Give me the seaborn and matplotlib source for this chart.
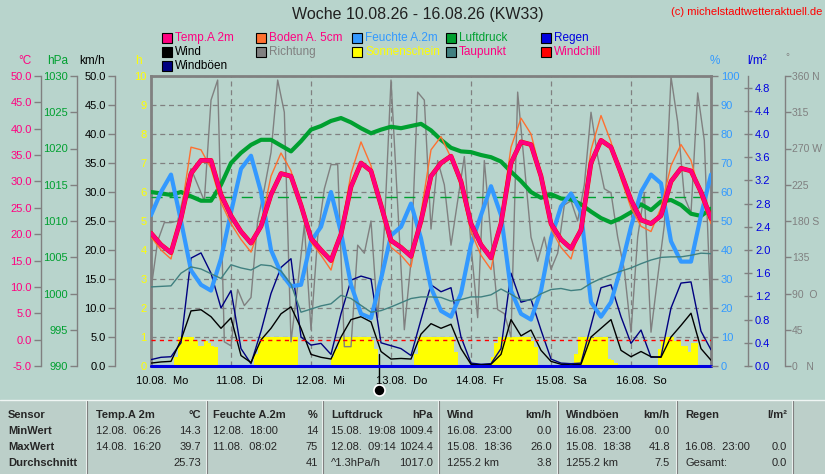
import numpy as np
import matplotlib
matplotlib.use("Agg")
import matplotlib.pyplot as plt
import matplotlib.transforms as mtransforms
from matplotlib.patches import Rectangle
from matplotlib.lines import Line2D
import seaborn as sns

# Messwerte Woche 10.08. - 16.08. (Stunden ab 10.08. 00:00)
hours3 = list(range(0, 169, 3))
temp = [20.2, 18.0, 16.5, 23.0, 31.5, 34.0, 34.0, 27.5, 23.5, 20.5, 18.3, 21.5, 27.5, 31.5, 31.0, 25.5,
        19.2, 17.0, 15.0, 20.0, 29.0, 33.5, 32.0, 25.5, 18.8, 17.5, 15.8, 22.5, 31.0, 33.5, 34.8, 30.0,
        22.0, 18.0, 15.5, 22.0, 33.5, 37.5, 37.0, 31.0, 22.0, 19.0, 17.3, 20.8, 33.5, 37.8, 36.5, 31.6,
        26.5, 22.7, 22.0, 23.5, 30.0, 32.5, 32.0, 28.0, 23.0]
boden = [19.5, 17.0, 15.3, 24.0, 36.5, 36.0, 32.5, 26.0, 22.0, 19.0, 16.6, 22.0, 31.0, 35.4, 32.0, 25.0,
         18.5, 16.0, 13.2, 20.5, 31.5, 37.5, 33.0, 24.5, 17.5, 16.0, 13.8, 24.0, 36.0, 38.5, 34.5, 29.0,
         20.5, 16.0, 13.3, 23.0, 36.5, 42.0, 39.0, 31.5, 21.0, 17.5, 15.3, 22.0, 36.0, 42.5, 37.5, 30.5,
         25.0, 21.5, 20.5, 25.0, 33.0, 37.0, 34.0, 27.0, 22.0]
feuchte = [52, 60, 66, 50, 33, 28, 26, 37, 53, 68, 72.5, 60, 40, 32, 27.5, 28,
           43, 48, 60, 46, 28, 18, 16.5, 30, 45, 48, 56, 44, 27, 19, 17, 25,
           42, 52, 62, 52, 26, 18, 16, 26, 44, 55, 59.5, 53, 22, 17, 22, 34,
           48, 60, 66, 63, 43, 36, 36, 52, 66]
luftdruck = [1014.0, 1013.8, 1013.6, 1014.0, 1013.4, 1012.8, 1012.8, 1015.0, 1018.0, 1019.4, 1020.5,
             1021.2, 1021.2, 1020.4, 1019.6, 1021.0, 1022.6, 1023.1, 1023.8, 1024.2, 1023.6, 1022.8,
             1022.1, 1022.6, 1023.0, 1022.8, 1023.1, 1023.4, 1022.5, 1021.2, 1020.1, 1019.6, 1019.5,
             1019.1, 1018.8, 1018.2, 1016.8, 1015.5, 1014.0, 1013.2, 1013.7, 1013.1, 1013.0, 1012.3,
             1011.3, 1010.4, 1009.8, 1010.4, 1011.2, 1012.3, 1011.5, 1012.7, 1012.9, 1012.2, 1011.0,
             1010.7, 1011.7]
taupunkt = [10.0, 10.1, 10.2, 12.6, 13.8, 13.4, 12.5, 11.6, 14.2, 13.6, 13.2, 14.2, 14.0, 13.0, 10.5, 5.2,
            5.8, 6.4, 6.8, 8.4, 7.8, 6.5, 5.2, 5.5, 6.2, 7.0, 7.8, 8.1, 8.1, 8.0, 7.3, 7.6,
            8.1, 8.1, 8.5, 9.6, 8.6, 7.5, 7.5, 8.7, 9.5, 9.7, 9.3, 9.5, 10.7, 11.6, 12.3, 13.0,
            13.6, 14.4, 15.1, 15.6, 15.7, 15.7, 16.0, 16.4, 16.3]
wind = [0.5, 0.7, 0.8, 4.5, 9.5, 9.7, 8.5, 6.5, 8.3, 1.8, 0.6, 4.5, 6.5, 9.0, 10.2, 6.5,
        2.0, 1.5, 1.2, 5.0, 8.0, 8.5, 7.6, 2.5, 1.2, 1.3, 1.2, 5.5, 7.3, 6.5, 7.2, 3.0,
        0.3, 0.2, 0.3, 2.0, 8.0, 5.2, 6.2, 2.7, 0.8, 0.3, 0.2, 0.3, 5.0, 6.5, 8.0, 2.7,
        1.6, 2.5, 1.6, 1.5, 5.0, 7.0, 9.1, 3.0, 1.0]
boeen = [1.1, 1.5, 1.6, 4.0, 18.6, 19.5, 16.0, 10.0, 13.0, 3.0, 0.4, 6.0, 12.5, 17.0, 18.5, 5.0,
         3.6, 3.9, 2.0, 9.0, 14.8, 15.5, 15.0, 4.0, 3.5, 3.0, 1.8, 8.0, 14.0, 12.8, 13.5, 5.0,
         0.5, 0.3, 0.4, 3.0, 16.0, 11.0, 11.5, 6.2, 1.2, 0.5, 0.4, 0.5, 7.0, 13.5, 14.0, 8.5,
         3.9, 6.2, 1.5, 1.6, 10.0, 14.3, 14.5, 6.0, 2.8]

hours2 = list(range(0, 169, 2))
richtung = [95, 155, 178, 178, 180, 215, 245, 225, 205, 330, 355, 30,
            25, 95, 75, 85, 180, 220, 265, 355, 315, 30, 100, 175,
            45, 160, 220, 250, 250, 24, 24, 150, 140, 180, 60, 170,
            355, 200, 45, 130, 340, 330, 170, 255, 225, 150, 205, 260,
            150, 60, 255, 160, 70, 65, 36, 340, 250, 160, 130, 160,
            120, 140, 200, 205, 180, 225, 315, 260, 220, 215, 160, 119,
            42, 160, 215, 42, 110, 175, 359, 303, 210, 190, 339, 280,
            60]

hours1 = list(range(0, 168))
sonne = [0, 0, 0, 0, 0, 0, 0, 0.3, 1, 1, 1, 1, 1, 0.85, 0.7, 0.7, 0.85, 0.8, 0.7, 0.65, 0, 0, 0, 0,
         0, 0, 0, 0, 0, 0, 0, 0.4, 0.8, 1, 1, 1, 1, 1, 1, 1, 1, 1, 1, 1, 0, 0, 0, 0,
         0, 0, 0, 0, 0, 0, 0.3, 0.6, 0.9, 1, 1, 1, 1, 1, 1, 1, 1, 1, 0.9, 0.6, 0, 0, 0, 0,
         0, 0, 0, 0, 0, 0, 0, 0.4, 1, 1, 1, 1, 1, 1, 1, 1, 1, 1, 1, 0.5, 0, 0, 0, 0,
         0, 0, 0, 0, 0, 0, 0.3, 0.8, 1, 1, 1, 1, 1, 1, 1, 1, 1, 1, 0.85, 0.65, 0, 0, 0, 0,
         0, 0, 0, 0, 0, 0, 0, 0.4, 1, 1, 1, 1, 0.95, 1, 1, 1, 1, 0.25, 0.2, 0.1, 0, 0, 0, 0,
         0, 0, 0, 0, 0, 0, 0, 0, 0.6, 0.9, 1, 1, 1, 0.85, 0.85, 0.7, 0.7, 0.5, 0.8, 0.8, 0, 0, 0, 0]

regen_tage = [0, 1, 2, 3, 4, 5, 6, 7]
regen = [0.0, 0.0, 0.0, 0.0, 0.0, 0.0, 0.0, 0.0]

mond_tag = 2.85
tag_labels = ["10.08.  Mo", "11.08.  Di", "12.08.  Mi", "13.08.  Do", "14.08.  Fr", "15.08.  Sa", "16.08.  So"]
richtung_labels = ["0   N", "45", "90  O", "135", "180 S", "225", "270 W", "315", "360 N"]

# Tabelle
tab_sensor = ["Temp.A 2m", "Feuchte A.2m", "Luftdruck", "Wind", "Windböen", "Regen"]
tab_einheit = ["°C", "%", "hPa", "km/h", "km/h", "l/m²"]
tab_zeilen = ["MinWert", "MaxWert", "Durchschnitt"]
min_wann = ["12.08.  06:26", "12.08.  18:00", "15.08.  19:08", "16.08.  23:00", "16.08.  23:00", ""]
min_wert = ["14.3", "14", "1009.4", "0.0", "0.0", ""]
max_wann = ["14.08.  16:20", "11.08.  08:02", "12.08.  09:14", "15.08.  18:36", "15.08.  18:38", "16.08.  23:00"]
max_wert = ["39.7", "75", "1024.4", "26.0", "41.8", "0.0"]
avg_text = ["", "", "^1.3hPa/h", "1255.2 km", "1255.2 km", "Gesamt:"]
avg_wert = ["25.73", "41", "1017.0", "3.8", "7.5", "0.0"]

BG = "#b8d4cc"
TBG = "#bccfc9"
PINK = "#ff0080"
ORANGE = "#ff7030"
LBLUE = "#3399ff"
GREEN = "#00a030"
BLUE = "#0000e0"
NAVY = "#000080"
GRAY = "#808080"
YELLOW = "#ffff00"
TEAL = "#408080"
RED = "#ff0000"

sns.set_style("white")
plt.rcParams['font.family'] = ['Liberation Sans', 'DejaVu Sans']

W, H = 825, 474
L, R, T, B = 151, 711, 76, 366


def fx(px):
    return px / W


def fy(py):
    return 1 - py / H


fig = plt.figure(figsize=(W / 100, H / 100), dpi=100, facecolor=BG)
fig.patches.append(Rectangle((0, 0), 1, fy(400), transform=fig.transFigure, color=TBG, zorder=0))

ax = fig.add_axes([fx(L), fy(B), (R - L) / W, (B - T) / H])
ax.set_facecolor(BG)
ax.set_xlim(0, 7)
ax.set_ylim(0, 10)
for s in ax.spines.values():
    s.set_color(GRAY)
    s.set_linewidth(2)
ax.set_yticks(range(0, 11))
ax.tick_params(axis='y', length=0, labelcolor=YELLOW, labelsize=8, pad=3)
ax.set_xticks(range(0, 8))
ax.set_xticklabels([])
ax.tick_params(axis='x', length=4, color=GRAY, width=1, direction='out')
ax.grid(True, color=GRAY, linestyle=(0, (4, 3)), linewidth=0.9)

days1 = np.array(hours1) / 24
ax.bar(days1 + 0.5 / 24, sonne, width=1 / 24, color=YELLOW, linewidth=0, zorder=2)

for d, lab in enumerate(tag_labels):
    ax.annotate(lab, xy=(d, 0), xycoords=('data', 'axes fraction'), xytext=(-15, -15),
                textcoords='offset pixels', ha='left', va='center', fontsize=8, color='black')

trans = mtransforms.blended_transform_factory(ax.transData, ax.transAxes)
ax.plot([mond_tag, mond_tag], [0.04, -0.07], color='black', lw=1, transform=trans, clip_on=False, zorder=5)
ax.plot([mond_tag], [-0.083], marker='o', ms=8, mfc='black', mec='white', mew=1.2,
        transform=trans, clip_on=False, zorder=6)


def twin(side, pos, tick_dir='out'):
    a = ax.twinx()
    for s in a.spines.values():
        s.set_visible(False)
    sp = a.spines[side]
    sp.set_visible(pos != 1.0)
    sp.set_position(('axes', pos))
    sp.set_color(GRAY)
    sp.set_linewidth(1)
    if side == 'left':
        a.yaxis.tick_left()
    else:
        a.yaxis.tick_right()
    a.tick_params(axis='y', color=GRAY, width=1, length=5, direction=tick_dir, labelsize=8, pad=1.5)
    return a


days3 = np.array(hours3) / 24
days2 = np.array(hours2) / 24

# Windrichtung
ax_dir = twin('right', 1.1321)
ax_dir.set_ylim(0, 360)
ax_dir.set_yticks(range(0, 361, 45))
ax_dir.set_yticklabels(richtung_labels)
ax_dir.tick_params(axis='y', labelcolor=GRAY, labelsize=7.5, length=4, pad=1)
sns.lineplot(x=days2, y=richtung, ax=ax_dir, color=GRAY, linewidth=1, legend=False)

# Wind / Böen
ax_wind = twin('left', -0.0643)
ax_wind.set_ylim(0, 50)
ax_wind.set_yticks(range(0, 51, 5))
ax_wind.set_yticklabels([f"{v:.1f}" for v in range(0, 51, 5)])
ax_wind.tick_params(axis='y', labelcolor='black')
sns.lineplot(x=days3, y=boeen, ax=ax_wind, color=NAVY, linewidth=1, legend=False)
sns.lineplot(x=days3, y=wind, ax=ax_wind, color='black', linewidth=1, legend=False)

# Regen
ax_rain = twin('right', 1.0661, tick_dir='inout')
ax_rain.set_ylim(0, 5.0)
rt = [i * 0.4 for i in range(13)]
ax_rain.set_yticks(rt)
ax_rain.set_yticklabels([f"{v:.1f}" for v in rt])
ax_rain.tick_params(axis='y', labelcolor=BLUE, length=6, pad=2)
sns.lineplot(x=regen_tage, y=regen, ax=ax_rain, color=BLUE, linewidth=2.2, legend=False)
for ln in ax_rain.lines:
    ln.set_clip_on(False)

# Luftdruck
ax_p = twin('left', -0.1321)
ax_p.set_ylim(990, 1030)
ax_p.set_yticks(range(990, 1031, 5))
ax_p.tick_params(axis='y', labelcolor=GREEN)
ax_p.axhline(1013.25, color=GREEN, linestyle=(0, (8, 5)), linewidth=1)
sns.lineplot(x=days3, y=luftdruck, ax=ax_p, color=GREEN, linewidth=3, legend=False)

# Feuchte
ax_hum = twin('right', 1.0)
ax_hum.set_ylim(0, 100)
ax_hum.set_yticks(range(0, 101, 10))
ax_hum.tick_params(axis='y', labelcolor=LBLUE, pad=2)
sns.lineplot(x=days3, y=feuchte, ax=ax_hum, color=LBLUE, linewidth=3, legend=False)

# Temperaturen
ax_t = twin('left', -0.1964)
ax_t.set_ylim(-5, 50)
ax_t.set_yticks(range(-5, 51, 5))
ax_t.set_yticklabels([f"{v:.1f}" for v in range(-5, 51, 5)])
ax_t.tick_params(axis='y', labelcolor=PINK)
ax_t.axhline(0, color=RED, linestyle=(0, (3, 3)), linewidth=1)
sns.lineplot(x=days3, y=taupunkt, ax=ax_t, color=TEAL, linewidth=1, legend=False)
sns.lineplot(x=days3, y=boden, ax=ax_t, color=ORANGE, linewidth=1, legend=False)
sns.lineplot(x=days3, y=temp, ax=ax_t, color=RED, linewidth=3.4, legend=False)
sns.lineplot(x=days3, y=temp, ax=ax_t, color=PINK, linewidth=2.8, legend=False)

for a in [ax, ax_dir, ax_wind, ax_rain, ax_p, ax_hum, ax_t]:
    a.set_xlabel('')
    a.set_ylabel('')
    a.set_xlim(0, 7)

# Einheiten über den Achsen
for txt, px, col in [("°C", 25, PINK), ("hPa", 58, GREEN), ("km/h", 92, 'black'), ("h", 138, YELLOW),
                     ("%", 715, LBLUE), ("l/m²", 757, BLUE)]:
    fig.text(fx(px), fy(61), txt, ha='center', va='center', fontsize=8.5, color=col)
fig.text(fx(787), fy(57), "°", ha='center', va='center', fontsize=7, color=GRAY)

# Titel
fig.text(fx(418), fy(15), "Woche 10.08.26 - 16.08.26 (KW33)", ha='center', va='center',
         fontsize=11.5, color='#202020')
fig.text(fx(822), fy(12), "(c) michelstadtwetteraktuell.de", ha='right', va='center',
         fontsize=8, color=RED)

# Legende
legend = [
    (162, 38, "Temp.A 2m", PINK, PINK), (162, 52, "Wind", 'black', 'black'),
    (162, 66, "Windböen", NAVY, 'black'),
    (256, 38, "Boden A. 5cm", ORANGE, PINK), (256, 52, "Richtung", GRAY, GRAY),
    (352, 38, "Feuchte A.2m", LBLUE, LBLUE), (352, 52, "Sonnenschein", YELLOW, YELLOW),
    (446, 38, "Luftdruck", GREEN, GREEN), (446, 52, "Taupunkt", TEAL, PINK),
    (541, 38, "Regen", BLUE, BLUE), (541, 52, "Windchill", RED, PINK),
]
for px, py, txt, box, tc in legend:
    fig.patches.append(Rectangle((fx(px), fy(py + 5)), 10 / W, 10 / H, transform=fig.transFigure,
                                 facecolor=box, edgecolor='black', linewidth=0.8))
    fig.text(fx(px + 13), fy(py), txt, ha='left', va='center', fontsize=8.5, color=tc)

# Tabelle unten
fig.add_artist(Line2D([0, 1], [fy(400), fy(400)], transform=fig.transFigure, color='#f0f6f4', lw=1))
for sx in [87, 207, 323, 439, 558, 677, 793]:
    fig.add_artist(Line2D([fx(sx - 1), fx(sx - 1)], [fy(401), 0], transform=fig.transFigure,
                          color='#f0f6f4', lw=0.8))
    fig.add_artist(Line2D([fx(sx), fx(sx)], [fy(401), 0], transform=fig.transFigure,
                          color=GRAY, lw=0.8))

rows_y = [415, 431, 447, 463]
fig.text(fx(8), fy(rows_y[0]), "Sensor", ha='left', va='center', fontsize=8, fontweight='bold')
for i, name in enumerate(tab_zeilen):
    fig.text(fx(8), fy(rows_y[i + 1]), name, ha='left', va='center', fontsize=8, fontweight='bold')

col_lr = [(96, 201), (213, 318), (331, 433), (447, 552), (566, 670), (685, 787)]
for j, (cl, cr) in enumerate(col_lr):
    fig.text(fx(cl), fy(rows_y[0]), tab_sensor[j], ha='left', va='center', fontsize=8, fontweight='bold')
    fig.text(fx(cr), fy(rows_y[0]), tab_einheit[j], ha='right', va='center', fontsize=8, fontweight='bold')
    for r, (wann, wert) in enumerate([(min_wann, min_wert), (max_wann, max_wert), (avg_text, avg_wert)]):
        fig.text(fx(cl), fy(rows_y[r + 1]), wann[j], ha='left', va='center', fontsize=8)
        fig.text(fx(cr), fy(rows_y[r + 1]), wert[j], ha='right', va='center', fontsize=8)

fig.savefig("out.png", dpi=100, facecolor=BG)
